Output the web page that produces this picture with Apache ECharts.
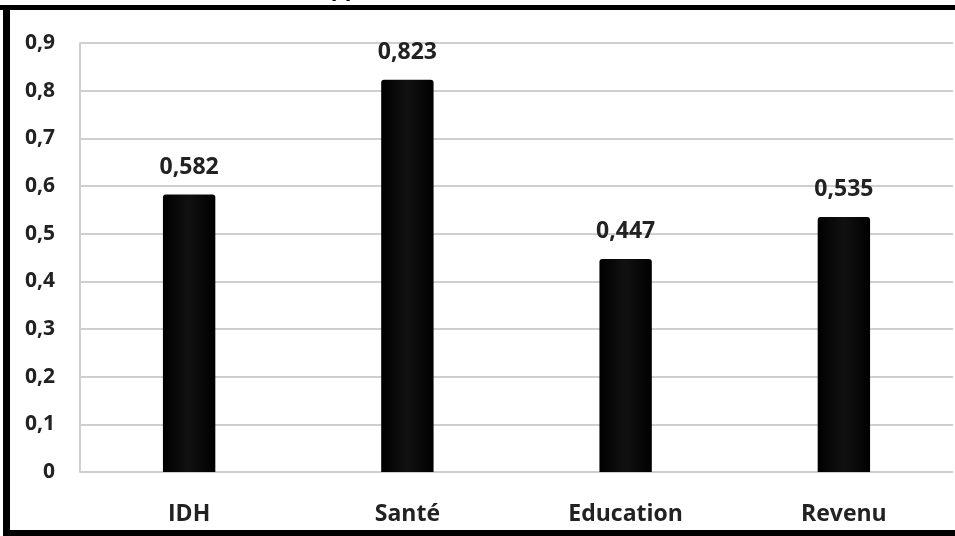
<!DOCTYPE html>
<html><head><meta charset="utf-8">
<script src="https://cdn.jsdelivr.net/npm/echarts@6/dist/echarts.min.js"></script>
<style>html,body{margin:0;padding:0;background:#fff}#c{width:955px;height:536px}</style>
</head><body><div id="c"></div>
<script>
const categories = ['IDH', 'Santé', 'Education', 'Revenu'];
const values = [0.582, 0.823, 0.447, 0.535];
const yTicks = [0, 0.1, 0.2, 0.3, 0.4, 0.5, 0.6, 0.7, 0.8, 0.9];
const titleText = 'Indice de développement humain (IDH)';

const fmt = v => String(v).replace('.', ',');
const chart = echarts.init(document.getElementById('c'));
chart.setOption({
  backgroundColor: '#fff',
  animation: false,
  title: {
    text: titleText, right: 373, top: -21, padding: 0,
    textStyle: { fontFamily: 'Open Sans', fontWeight: 'bold', fontSize: 22, color: '#000' }
  },
  grid: { left: 80, right: 2, top: 43, bottom: 64 },
  xAxis: {
    type: 'category', data: categories,
    axisLine: { show: false }, axisTick: { show: false },
    axisLabel: { margin: 31, fontFamily: 'Open Sans', fontWeight: 'bold', fontSize: 23, color: '#222' }
  },
  yAxis: {
    type: 'value', min: 0, max: yTicks[yTicks.length - 1], interval: 0.1,
    axisLine: { show: true, lineStyle: { color: '#cfcfcf', width: 2 } },
    axisTick: { show: false },
    splitLine: { lineStyle: { color: '#cfcfcf', width: 2 } },
    axisLabel: { margin: 25, fontFamily: 'Open Sans', fontWeight: 'bold', fontSize: 21, color: '#222',
      formatter: v => fmt(Math.round(v * 10) / 10) }
  },
  series: [{
    type: 'bar', data: values, barWidth: '24%',
    itemStyle: {
      color: new echarts.graphic.LinearGradient(0, 0, 1, 0, [
        { offset: 0, color: '#000' }, { offset: 0.5, color: '#111' }, { offset: 1, color: '#000' }
      ]),
      borderRadius: [3, 3, 0, 0]
    },
    label: { show: true, position: 'top', distance: 16, fontFamily: 'Open Sans', fontWeight: 'bold',
      fontSize: 23, color: '#222', formatter: p => fmt(p.value) }
  }],
  graphic: [
    { type: 'rect', shape: { x: 0, y: 5, width: 955, height: 5 }, style: { fill: '#000' }, z: 100 },
    { type: 'rect', shape: { x: 3, y: 5, width: 7, height: 531 }, style: { fill: '#000' }, z: 100 },
    { type: 'rect', shape: { x: 3, y: 530, width: 952, height: 6 }, style: { fill: '#000' }, z: 100 }
  ]
});
</script></body></html>
